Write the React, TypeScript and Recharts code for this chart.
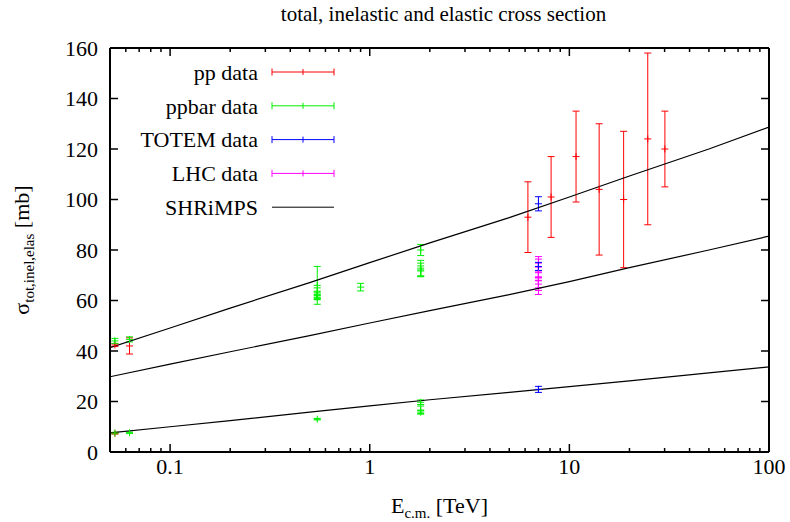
import React from "react";
import {
  ComposedChart,
  Line,
  Scatter,
  ErrorBar,
  XAxis,
  YAxis,
  Label,
  Legend,
} from "recharts";

const FONT = "Liberation Serif, Times New Roman, Times, serif";

// SHRiMPS curves at a few energies (TeV)
const curveEnergies = [0.05, 0.1, 0.2, 0.5, 1, 2, 5, 10, 20, 50, 100];
const totalCurve = [41.3, 49.1, 57, 67.1, 75, 82.8, 92.8, 101, 109.3, 120, 128.7];
const inelCurve = [29.8, 34.8, 39.7, 46.1, 51.1, 56, 62.3, 67.5, 73, 80, 85.5];
const elasCurve = [7.6, 10.0, 12.4, 15.8, 18.3, 20.7, 23.6, 25.9, 28.2, 31.3, 33.7];

// measurements: energy (TeV), sigma (mb), error (mb)
const ppE = [0.0529, 0.0626, 0.0529, 6.2, 8.1, 10.8, 14.1, 18.7, 24.7, 30.1];
const ppS = [42.4, 42.0, 7.4, 93, 101, 117, 104, 100, 124, 120];
const ppErr = [0.6, 3.2, 0.3, 14, 16, 18, 26, 27, 34, 15];

const ppbarE = [0.0529, 0.0626, 0.0529, 0.0626, 0.546, 0.546, 0.546, 0.546, 0.546, 0.546, 0.9, 1.8, 1.8, 1.8, 1.8, 1.8, 1.8, 1.8];
const ppbarS = [44.0, 44.6, 7.5, 7.6, 66.0, 62.2, 61.3, 61.9, 63.0, 13.0, 65.3, 80.0, 72.8, 71.7, 72.1, 19.7, 16.6, 15.8];
const ppbarErr = [1.0, 1.0, 0.3, 0.3, 7.5, 1.5, 1.0, 1.5, 2.0, 0.3, 1.5, 2.2, 3.1, 2.0, 2.7, 0.9, 1.6, 0.6];

const totemE = [7, 7, 7];
const totemS = [98.3, 73.5, 24.8];
const totemErr = [2.8, 1.6, 1.2];

const lhcE = [7, 7, 7, 7, 7];
const lhcS = [73.2, 69.4, 68.0, 66.5, 71.3];
const lhcErr = [4.2, 7.0, 3.0, 2.5, 3.5];

const legendOrder = ["pp data", "ppbar data", "TOTEM data", "LHC data", "SHRiMPS"];

const xMajor = [0.1, 1, 10, 100];
const xMinor = [0.06, 0.07, 0.08, 0.09, 0.2, 0.3, 0.4, 0.5, 0.6, 0.7, 0.8, 0.9, 2, 3, 4, 5, 6, 7, 8, 9, 20, 30, 40, 50, 60, 70, 80, 90];
const xTicks = [...xMinor, ...xMajor].sort((a, b) => a - b);
const yTicks = [0, 20, 40, 60, 80, 100, 120, 140, 160];

const curve = (vals: number[]) => curveEnergies.map((e, i) => ({ e, s: vals[i] }));
const points = (es: number[], ss: number[], errs: number[]) =>
  es.map((e, i) => ({ e, s: ss[i], err: errs[i] }));

const totalData = curve(totalCurve);
const inelData = curve(inelCurve);
const elasData = curve(elasCurve);
const ppData = points(ppE, ppS, ppErr);
const ppbarData = points(ppbarE, ppbarS, ppbarErr);
const totemData = points(totemE, totemS, totemErr);
const lhcData = points(lhcE, lhcS, lhcErr);

const RED = "#ff0000";
const GREEN = "#00f000";
const BLUE = "#0000ff";
const MAGENTA = "#ff00ff";

const txt = { fontFamily: FONT };

const BottomTick = (props: any) => {
  const { x, y, payload } = props;
  const major = xMajor.includes(payload.value);
  return (
    <g>
      <line x1={x} x2={x} y1={y} y2={y - (major ? 8 : 4)} stroke="#000" strokeWidth={1.5} />
      {major && (
        <text x={x} y={y + 22} textAnchor="middle" style={txt} fontSize={22} fill="#000">
          {String(payload.value)}
        </text>
      )}
    </g>
  );
};

const TopTick = (props: any) => {
  const { x, y, payload } = props;
  const major = xMajor.includes(payload.value);
  return <line x1={x} x2={x} y1={y} y2={y + (major ? 8 : 4)} stroke="#000" strokeWidth={1.5} />;
};

const LeftTick = (props: any) => {
  const { x, y, payload } = props;
  return (
    <g>
      <line x1={x} x2={x + 8} y1={y} y2={y} stroke="#000" strokeWidth={1.5} />
      <text x={x - 12} y={y} dy="0.35em" textAnchor="end" style={txt} fontSize={22} fill="#000">
        {payload.value}
      </text>
    </g>
  );
};

const RightTick = (props: any) => {
  const { x, y } = props;
  return <line x1={x} x2={x - 8} y1={y} y2={y} stroke="#000" strokeWidth={1.5} />;
};

const cross = (color: string) => (props: any) => {
  const { cx, cy } = props;
  return (
    <g stroke={color} strokeWidth={1}>
      <line x1={cx - 3.5} x2={cx + 3.5} y1={cy} y2={cy} />
      <line x1={cx} x2={cx} y1={cy - 3.5} y2={cy + 3.5} />
    </g>
  );
};

const TitleLabel = (props: any) => {
  const { x, width } = props.viewBox;
  return (
    <text x={x + width / 2 + 4} y={21} textAnchor="middle" style={txt} fontSize={21} fill="#000">
      total, inelastic and elastic cross section
    </text>
  );
};

const XTitle = (props: any) => {
  const { x, y, width } = props.viewBox;
  return (
    <text x={x + width / 2} y={y + 61} textAnchor="middle" style={txt} fontSize={22} fill="#000">
      E
      <tspan fontSize={15} dy={5}>c.m.</tspan>
      <tspan dy={-5}>{" [TeV]"}</tspan>
    </text>
  );
};

const YTitle = (props: any) => {
  const { y, height } = props.viewBox;
  const cy = y + height / 2;
  return (
    <text
      x={29}
      y={cy}
      transform={`rotate(-90, 29, ${cy})`}
      textAnchor="middle"
      style={txt}
      fontSize={22}
      fill="#000"
    >
      σ
      <tspan fontSize={15} dy={5}>tot,inel,elas</tspan>
      <tspan dy={-5}>{" [mb]"}</tspan>
    </text>
  );
};

const LegendBox = (props: any) => {
  const items = (props.payload || [])
    .filter((p: any) => legendOrder.includes(p.value))
    .sort((a: any, b: any) => legendOrder.indexOf(a.value) - legendOrder.indexOf(b.value));
  return (
    <svg width={790} height={522} style={{ position: "absolute", left: 0, top: 0 }}>
      {items.map((p: any, i: number) => {
        const cy = 72 + i * 33.8;
        const isLine = p.type === "line";
        const c = isLine ? "#000" : p.color;
        return (
          <g key={p.value}>
            <text x={258} y={cy} dy="0.35em" textAnchor="end" style={txt} fontSize={22} fill="#000">
              {p.value}
            </text>
            <line x1={272} x2={334} y1={cy} y2={cy} stroke={c} strokeWidth={1} />
            {!isLine && (
              <g stroke={c} strokeWidth={1}>
                <line x1={272} x2={272} y1={cy - 3.5} y2={cy + 3.5} />
                <line x1={334} x2={334} y1={cy - 3.5} y2={cy + 3.5} />
                <line x1={303} x2={303} y1={cy - 3} y2={cy + 3} />
              </g>
            )}
          </g>
        );
      })}
    </svg>
  );
};

export default function App() {
  return (
    <div style={{ position: "absolute", left: 0, top: 0, width: 790, height: 522, background: "#fff" }}>
      <ComposedChart width={790} height={522} margin={{ top: 0, right: 0, bottom: 0, left: 0 }}>
        <XAxis
          dataKey="e"
          type="number"
          scale="log"
          domain={[0.05, 100]}
          allowDataOverflow
          ticks={xTicks}
          interval={0}
          height={70}
          tickSize={0}
          tickMargin={0}
          tickLine={false}
          tick={(p: any) => <BottomTick {...p} />}
          axisLine={{ stroke: "#000", strokeWidth: 2 }}
        >
          <Label content={XTitle} />
        </XAxis>
        <XAxis
          xAxisId="top"
          orientation="top"
          dataKey="e"
          type="number"
          scale="log"
          domain={[0.05, 100]}
          allowDataOverflow
          ticks={xTicks}
          interval={0}
          height={48}
          tickSize={0}
          tickMargin={0}
          tickLine={false}
          tick={(p: any) => <TopTick {...p} />}
          axisLine={{ stroke: "#000", strokeWidth: 2 }}
        >
          <Label content={TitleLabel} />
        </XAxis>
        <YAxis
          type="number"
          domain={[0, 160]}
          allowDataOverflow
          ticks={yTicks}
          interval={0}
          width={110}
          tickSize={0}
          tickMargin={0}
          tickLine={false}
          tick={(p: any) => <LeftTick {...p} />}
          axisLine={{ stroke: "#000", strokeWidth: 2 }}
        >
          <Label content={YTitle} />
        </YAxis>
        <YAxis
          yAxisId="right"
          orientation="right"
          type="number"
          domain={[0, 160]}
          allowDataOverflow
          ticks={yTicks}
          interval={0}
          width={21}
          tickSize={0}
          tickMargin={0}
          tickLine={false}
          tick={(p: any) => <RightTick {...p} />}
          axisLine={{ stroke: "#000", strokeWidth: 2 }}
        />
        <Legend
          layout="vertical"
          align="center"
          verticalAlign="middle"
          content={LegendBox}
          wrapperStyle={{ left: 0, top: 0, width: 790, height: 522, pointerEvents: "none" }}
        />
        <Scatter name="pp data" data={ppData} dataKey="s" fill={RED} shape={cross(RED)} isAnimationActive={false}>
          <ErrorBar dataKey="err" direction="y" width={3.5} stroke={RED} strokeWidth={1} />
        </Scatter>
        <Scatter name="ppbar data" data={ppbarData} dataKey="s" fill={GREEN} shape={cross(GREEN)} isAnimationActive={false}>
          <ErrorBar dataKey="err" direction="y" width={3.5} stroke={GREEN} strokeWidth={1} />
        </Scatter>
        <Scatter name="LHC data" data={lhcData} dataKey="s" fill={MAGENTA} shape={cross(MAGENTA)} isAnimationActive={false}>
          <ErrorBar dataKey="err" direction="y" width={3.5} stroke={MAGENTA} strokeWidth={1} />
        </Scatter>
        <Scatter name="TOTEM data" data={totemData} dataKey="s" fill={BLUE} shape={cross(BLUE)} isAnimationActive={false}>
          <ErrorBar dataKey="err" direction="y" width={3.5} stroke={BLUE} strokeWidth={1} />
        </Scatter>
        <Line name="SHRiMPS" data={totalData} dataKey="s" type="linear" stroke="#000" strokeWidth={1.2} dot={false} legendType="line" isAnimationActive={false} />
        <Line name="SHRiMPS inel" data={inelData} dataKey="s" type="linear" stroke="#000" strokeWidth={1.2} dot={false} legendType="none" isAnimationActive={false} />
        <Line name="SHRiMPS elas" data={elasData} dataKey="s" type="linear" stroke="#000" strokeWidth={1.2} dot={false} legendType="none" isAnimationActive={false} />
      </ComposedChart>
    </div>
  );
}
